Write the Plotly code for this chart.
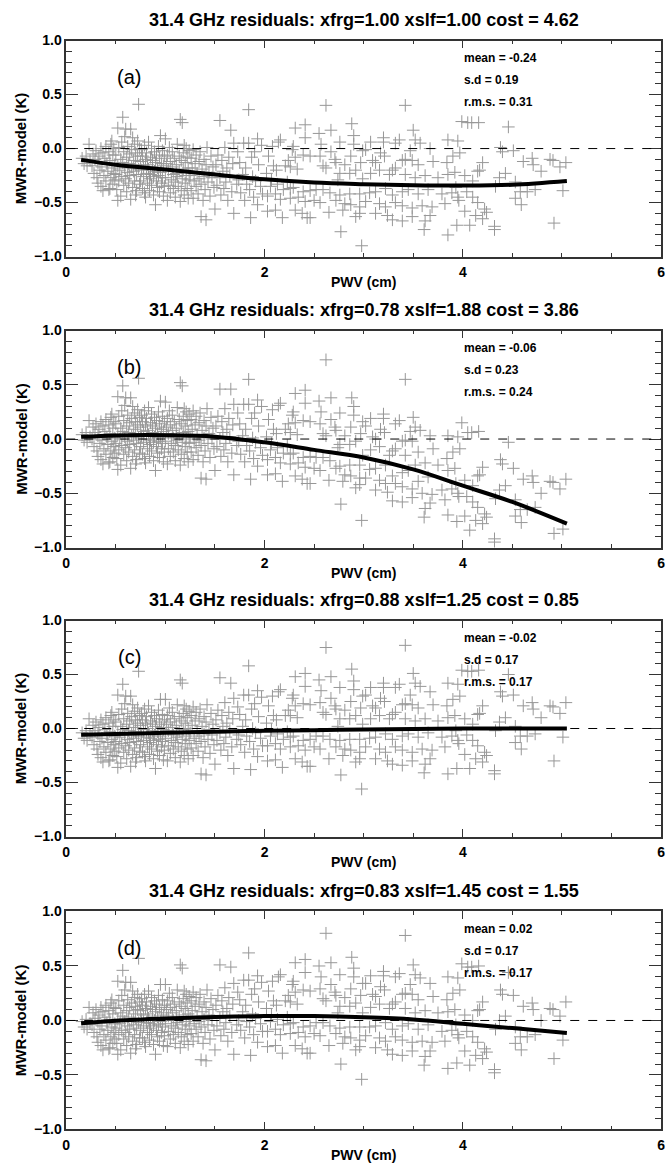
import plotly.graph_objects as go

# ---------------- data ----------------
pwv = [
    0.16, 0.18, 0.20, 0.21, 0.23, 0.24,
    0.26, 0.27, 0.28, 0.29, 0.30, 0.31, 0.32, 0.32, 0.33, 0.34, 0.35, 0.35, 0.36, 0.37, 0.37, 0.38, 0.39, 0.40, 0.40, 0.41,
    0.42, 0.43, 0.43, 0.44, 0.45, 0.45, 0.46, 0.47, 0.47, 0.48, 0.48, 0.49, 0.49, 0.46, 0.44,
    0.50, 0.50, 0.51, 0.52, 0.52, 0.53, 0.53, 0.54, 0.55, 0.55, 0.56, 0.56, 0.57, 0.57, 0.58, 0.58, 0.59, 0.60, 0.60, 0.61,
    0.61, 0.62, 0.62, 0.63, 0.63, 0.64, 0.64, 0.65, 0.65, 0.66, 0.66, 0.67, 0.67, 0.68, 0.68, 0.69, 0.69, 0.70, 0.70, 0.71,
    0.71, 0.72, 0.72, 0.73, 0.73, 0.74, 0.74, 0.52, 0.59, 0.70,
    0.75, 0.75, 0.76, 0.76, 0.77, 0.77, 0.78, 0.78, 0.79, 0.79, 0.80, 0.80, 0.81, 0.81, 0.82, 0.82, 0.83, 0.83, 0.84, 0.84,
    0.85, 0.85, 0.86, 0.86, 0.87, 0.87, 0.88, 0.88, 0.89, 0.89, 0.90, 0.90, 0.91, 0.91, 0.92, 0.92, 0.93, 0.93, 0.94, 0.94,
    0.95, 0.95, 0.96, 0.96, 0.97, 0.97, 0.98, 0.98, 0.99, 0.99,
    1.00, 1.00, 1.01, 1.02, 1.02, 1.03, 1.03, 1.04, 1.05, 1.05, 1.06, 1.07, 1.07, 1.08, 1.08, 1.09, 1.10, 1.10, 1.11, 1.12,
    1.12, 1.13, 1.14, 1.14, 1.15, 1.15, 1.16, 1.16, 1.17, 1.17, 1.18, 1.18, 1.19, 1.20, 1.20, 1.21, 1.21, 1.22, 1.22, 1.23,
    1.23, 1.24, 1.24, 1.11, 1.19,
    1.25, 1.26, 1.26, 1.27, 1.28, 1.28, 1.29, 1.30, 1.31, 1.31, 1.32, 1.33, 1.34, 1.34, 1.35, 1.36, 1.36, 1.37, 1.38, 1.39,
    1.39, 1.40, 1.41, 1.41, 1.42, 1.43, 1.44, 1.45, 1.46, 1.47, 1.48, 1.49,
    1.50, 1.51, 1.52, 1.53, 1.55, 1.55, 1.56, 1.57, 1.58, 1.59, 1.60, 1.61, 1.62, 1.63, 1.64, 1.65, 1.66, 1.67, 1.68, 1.69,
    1.69, 1.72, 1.73, 1.74,
    1.75, 1.76, 1.78, 1.79, 1.80, 1.81, 1.82, 1.84, 1.84, 1.85, 1.86, 1.87, 1.88, 1.89, 1.90, 1.91, 1.93, 1.93, 1.94, 1.96,
    1.97, 1.98,
    2.02, 2.03, 2.03, 2.04, 2.06, 2.07, 2.08, 2.09, 2.11, 2.11, 2.12, 2.13, 2.14, 2.16, 2.16, 2.18, 2.19, 2.21, 2.23, 2.24,
    2.26, 2.26, 2.26, 2.28, 2.29, 2.29, 2.31, 2.31, 2.31, 2.33, 2.34, 2.38, 2.39, 2.39, 2.41, 2.41, 2.41, 2.43, 2.46, 2.46, 2.46,
    2.50, 2.52, 2.55, 2.56, 2.56, 2.57, 2.59, 2.59, 2.62, 2.62, 2.65, 2.66, 2.67, 2.67, 2.71, 2.72, 2.72, 2.74,
    2.76, 2.76, 2.76, 2.77, 2.79, 2.81, 2.81, 2.86, 2.86, 2.87, 2.88, 2.90, 2.90, 2.87, 2.92, 2.92, 2.96, 2.96, 2.96, 2.97,
    2.98, 2.99,
    2.99, 3.02, 3.02, 3.06, 3.07, 3.07, 3.09, 3.12, 3.12, 3.12, 3.16, 3.16, 3.17, 3.20, 3.20, 3.21, 3.22, 3.22, 3.24,
    3.26, 3.29, 3.29, 3.29, 3.32, 3.32, 3.32, 3.36, 3.39, 3.39, 3.39, 3.39, 3.42, 3.42, 3.42, 3.45, 3.47, 3.49, 3.49, 3.49,
    3.50, 3.52, 3.52, 3.55, 3.55, 3.57, 3.59, 3.61, 3.62, 3.62, 3.65, 3.67, 3.67, 3.69, 3.70, 3.75,
    3.79, 3.82, 3.84, 3.85, 3.85, 3.85, 3.89, 3.90, 3.92, 3.94, 3.95, 3.95, 3.97, 3.99, 3.93, 3.96,
    4.02, 4.02, 4.05, 4.04, 4.07, 4.09, 4.10, 4.10, 4.13, 4.15, 4.15, 4.16, 4.17, 4.20, 4.20, 4.22, 4.24,
    4.32, 4.32, 4.33, 4.37, 4.38, 4.40, 4.43, 4.46,
    4.51, 4.53, 4.53, 4.58, 4.59, 4.61, 4.65, 4.70, 4.71, 4.73,
    4.79, 4.88, 4.91, 4.92, 4.98, 5.01, 5.04,
]

res_a = [
    -0.09, -0.14, -0.07, -0.16, 0.04, -0.11,
    -0.16, -0.05, -0.23, -0.10, -0.02, -0.27, -0.32, -0.13, -0.07, -0.20, 0.00, -0.35, -0.17, -0.39, -0.04, -0.25, -0.09, 0.02, -0.30, -0.14,
    -0.21, -0.38, -0.03, -0.11, -0.27, 0.04, -0.18, -0.33, -0.06, -0.23, 0.00, -0.15, -0.29, 0.07, -0.37,
    -0.24, -0.06, -0.38, 0.19, -0.16, 0.01, -0.30, -0.20, -0.10, -0.44, 0.06, -0.26, 0.29, -0.13, -0.34, -0.03, -0.18, 0.18, -0.28, -0.08,
    -0.40, 0.02, -0.22, -0.14, -0.32, -0.05, -0.25, 0.18, -0.47, -0.17, -0.01, 0.10, -0.36, -0.11, -0.21, 0.04, -0.30, -0.15, -0.04, -0.39,
    -0.24, -0.07, 0.07, 0.41, -0.19, -0.33, 0.00, -0.48, 0.11, -0.43,
    -0.30, -0.12, -0.01, -0.20, -0.37, -0.07, -0.26, -0.16, 0.03, -0.41, -0.45, -0.10, -0.23, -0.04, -0.32, -0.15, -0.19, 0.06, -0.28, -0.39,
    -0.08, -0.24, 0.00, -0.34, -0.17, -0.11, -0.43, -0.26, -0.03, -0.21, -0.52, -0.13, -0.30, -0.06, -0.36, -0.18, 0.02, -0.25, -0.09, -0.40,
    0.12, -0.22, -0.14, -0.32, -0.02, -0.27, -0.16, -0.44, -0.07, -0.35,
    0.09, -0.27, -0.14, -0.48, -0.06, -0.34, -0.20, 0.01, -0.41, -0.12, -0.29, -0.17, -0.03, -0.37, -0.24, -0.09, -0.45, -0.31, -0.15, 0.04,
    -0.26, -0.35, -0.07, -0.21, 0.27, -0.49, -0.11, -0.39, 0.24, -0.28, -0.04, -0.19, -0.43, -0.13, -0.32, 0.00, -0.25, -0.37, -0.08, -0.18,
    -0.46, -0.02, -0.29, -0.23, 0.03,
    -0.25, -0.09, -0.39, -0.18, -0.46, -0.01, -0.30, -0.14, -0.35, -0.06, -0.23, -0.42, -0.12, -0.28, -0.03, -0.63, -0.33, -0.19, -0.48, -0.10,
    -0.26, -0.38, -0.66, -0.15, 0.01, -0.31, -0.22, -0.44, -0.07, -0.27, -0.17, -0.36,
    -0.56, -0.15, -0.34, -0.06, 0.26, -0.27, -0.43, -0.11, -0.21, -0.37, 0.01, -0.31, -0.18, -0.48, -0.08, -0.25, 0.17, -0.40, -0.14, 0.05,
    -0.60, -0.33, -0.03, -0.29,
    -0.13, -0.41, -0.24, 0.05, -0.48, -0.18, -0.33, 0.36, 0.05, -0.38, -0.64, -0.08, -0.26, -0.45, -0.03, -0.30, 0.09, -0.52, -0.15, -0.35,
    0.03, -0.42,
    -0.23, -0.44, -0.58, -0.07, -0.35, -0.29, 0.02, -0.16, -0.42, -0.57, -0.20, -0.33, 0.06, 0.08, -0.47, -0.64, -0.38, -0.16, -0.31, -0.11,
    -0.17, -0.37, -0.46, -0.01, 0.02, -0.36, 0.19, -0.08, -0.57, -0.19, -0.45, -0.60, -0.06, -0.40, 0.22, 0.10, -0.49, -0.64, -0.07, -0.39, -0.64,
    -0.48, -0.38, 0.14, -0.07, -0.50, 0.04, -0.16, -0.38, 0.40, -0.18, -0.59, -0.41, 0.17, -0.03, -0.10, -0.13, -0.48, -0.29,
    0.06, -0.43, -0.23, -0.77, -0.57, -0.15, -0.51, -0.23, -0.42, -0.07, 0.23, 0.12, 0.04, -0.52, -0.20, -0.63, -0.42, -0.54, -0.60, -0.13,
    -0.90, -0.02,
    -0.28, -0.01, -0.49, -0.41, 0.06, -0.23, -0.11, -0.13, -0.40, -0.60, -0.20, -0.51, -0.04, 0.10, 0.06, -0.07, -0.37, -0.54, -0.62,
    -0.24, -0.20, -0.43, -0.66, 0.05, -0.18, -0.50, 0.08, -0.11, -0.40, -0.53, -0.67, 0.40, -0.10, -0.24, -0.38, -0.02, -0.11, -0.55, -0.63,
    0.17, 0.08, -0.27, -0.15, -0.42, 0.05, -0.53, -0.75, -0.25, -0.67, -0.38, 0.00, -0.62, -0.54, -0.12, -0.27,
    -0.42, -0.51, -0.13, -0.24, 0.08, -0.80, -0.41, -0.07, -0.22, -0.71, 0.07, -0.45, -0.04, 0.25, -0.36, -0.48,
    -0.25, -0.58, 0.24, -0.40, -0.71, 0.24, -0.30, -0.45, -0.62, -0.21, -0.50, 0.24, -0.20, -0.13, -0.65, -0.56, -0.59,
    -0.72, -0.75, -0.35, -0.27, 0.01, -0.03, -0.23, 0.20,
    -0.02, -0.31, -0.46, -0.40, -0.52, -0.12, -0.40, -0.09, -0.15, -0.38,
    -0.21, -0.10, -0.11, -0.69, -0.17, -0.39, -0.13,
]

res_b = [
    0.04, -0.01, 0.06, -0.03, 0.17, 0.02,
    0.00, 0.11, -0.07, 0.06, 0.14, -0.11, -0.16, 0.03, 0.09, -0.04, 0.16, -0.19, -0.01, -0.23, 0.12, -0.09, 0.07, 0.18, -0.14, 0.02,
    -0.05, -0.22, 0.13, 0.05, -0.11, 0.20, -0.02, -0.17, 0.10, -0.07, 0.16, 0.01, -0.13, 0.23, -0.21,
    -0.04, 0.14, -0.18, 0.39, 0.04, 0.21, -0.10, 0.00, 0.10, -0.24, 0.26, -0.06, 0.49, 0.07, -0.14, 0.17, 0.02, 0.38, -0.08, 0.12,
    -0.20, 0.22, -0.02, 0.06, -0.12, 0.15, -0.05, 0.38, -0.27, 0.03, 0.19, 0.30, -0.16, 0.09, -0.01, 0.24, -0.10, 0.05, 0.16, -0.19,
    -0.04, 0.13, 0.27, 0.56, 0.01, -0.13, 0.20, -0.28, 0.31, -0.23,
    -0.07, 0.11, 0.22, 0.03, -0.14, 0.16, -0.03, 0.07, 0.26, -0.18, -0.22, 0.13, 0.00, 0.19, -0.09, 0.08, 0.04, 0.29, -0.05, -0.16,
    0.15, -0.01, 0.23, -0.11, 0.06, 0.12, -0.20, -0.03, 0.20, 0.02, -0.29, 0.10, -0.07, 0.17, -0.13, 0.05, 0.25, -0.02, 0.14, -0.17,
    0.35, 0.01, 0.09, -0.09, 0.21, -0.04, 0.07, -0.21, 0.16, -0.12,
    0.34, -0.02, 0.11, -0.23, 0.19, -0.09, 0.05, 0.26, -0.16, 0.13, -0.04, 0.08, 0.22, -0.12, 0.01, 0.16, -0.20, -0.06, 0.10, 0.29,
    -0.01, -0.10, 0.18, 0.04, 0.52, -0.24, 0.14, -0.14, 0.49, -0.03, 0.21, 0.06, -0.18, 0.12, -0.07, 0.25, 0.00, -0.12, 0.17, 0.07,
    -0.21, 0.23, -0.04, 0.02, 0.28,
    0.02, 0.18, -0.12, 0.09, -0.19, 0.26, -0.03, 0.13, -0.08, 0.21, 0.04, -0.15, 0.15, -0.01, 0.24, -0.36, -0.06, 0.08, -0.21, 0.17,
    0.01, -0.11, -0.37, 0.12, 0.28, -0.04, 0.05, -0.17, 0.20, 0.00, 0.10, -0.09,
    -0.29, 0.12, -0.07, 0.21, 0.46, 0.00, -0.16, 0.16, 0.06, -0.10, 0.28, -0.04, 0.09, -0.21, 0.19, 0.02, 0.46, -0.13, 0.13, 0.32,
    -0.33, -0.06, 0.24, -0.02,
    0.14, -0.14, 0.03, 0.32, -0.21, 0.09, -0.06, 0.55, 0.32, -0.11, -0.37, 0.19, 0.01, -0.18, 0.24, -0.03, 0.36, -0.25, 0.12, -0.08,
    0.30, -0.15,
    0.02, -0.19, -0.33, 0.18, -0.10, -0.04, 0.27, 0.09, -0.17, -0.32, 0.05, -0.08, 0.31, 0.33, -0.22, -0.39, -0.13, 0.09, -0.06, 0.14,
    0.06, -0.14, -0.23, 0.22, 0.25, -0.13, 0.42, 0.15, -0.34, 0.04, -0.22, -0.37, 0.17, -0.17, 0.45, 0.33, -0.26, -0.41, 0.16, -0.16, -0.41,
    -0.27, -0.17, 0.35, 0.14, -0.29, 0.25, 0.05, -0.17, 0.73, 0.03, -0.38, -0.20, 0.38, 0.18, 0.11, 0.08, -0.27, -0.08,
    0.24, -0.25, -0.05, -0.60, -0.39, 0.03, -0.33, -0.05, -0.24, 0.11, 0.38, 0.30, 0.22, -0.34, -0.02, -0.45, -0.24, -0.36, -0.42, 0.05,
    -0.75, 0.16,
    -0.15, 0.12, -0.36, -0.28, 0.19, -0.10, 0.02, 0.00, -0.27, -0.47, -0.07, -0.38, 0.09, 0.23, 0.19, 0.06, -0.24, -0.41, -0.49,
    -0.15, -0.11, -0.34, -0.57, 0.14, -0.09, -0.41, 0.17, -0.02, -0.31, -0.44, -0.58, 0.55, -0.01, -0.15, -0.29, 0.07, -0.02, -0.46, -0.54,
    0.20, 0.11, -0.24, -0.12, -0.39, 0.08, -0.50, -0.72, -0.22, -0.64, -0.35, 0.03, -0.59, -0.51, -0.09, -0.24,
    -0.47, -0.56, -0.18, -0.29, 0.03, -0.70, -0.46, -0.12, -0.27, -0.76, 0.02, -0.50, -0.09, 0.15, -0.41, -0.53,
    -0.38, -0.71, 0.06, -0.53, -0.84, 0.06, -0.43, -0.58, -0.75, -0.34, -0.63, 0.07, -0.33, -0.26, -0.78, -0.69, -0.72,
    -0.92, -0.95, -0.55, -0.47, -0.19, -0.23, -0.43, -0.03,
    -0.27, -0.56, -0.71, -0.65, -0.77, -0.37, -0.65, -0.34, -0.40, -0.63,
    -0.50, -0.39, -0.40, -0.87, -0.46, -0.83, -0.37,
]

res_c = [
    -0.04, -0.09, -0.02, -0.11, 0.09, -0.06,
    -0.08, 0.03, -0.15, -0.02, 0.06, -0.19, -0.24, -0.05, 0.01, -0.12, 0.08, -0.27, -0.09, -0.31, 0.04, -0.17, -0.01, 0.10, -0.22, -0.06,
    -0.13, -0.30, 0.05, -0.03, -0.19, 0.12, -0.10, -0.25, 0.02, -0.15, 0.08, -0.07, -0.21, 0.15, -0.29,
    -0.12, 0.06, -0.26, 0.31, -0.04, 0.13, -0.18, -0.08, 0.02, -0.32, 0.18, -0.14, 0.41, -0.01, -0.22, 0.09, -0.06, 0.30, -0.16, 0.04,
    -0.28, 0.14, -0.10, -0.02, -0.20, 0.07, -0.13, 0.30, -0.35, -0.05, 0.11, 0.22, -0.24, 0.01, -0.09, 0.16, -0.18, -0.03, 0.08, -0.27,
    -0.12, 0.05, 0.19, 0.53, -0.07, -0.21, 0.12, -0.36, 0.23, -0.31,
    -0.15, 0.03, 0.14, -0.05, -0.22, 0.08, -0.11, -0.01, 0.18, -0.26, -0.30, 0.05, -0.08, 0.11, -0.17, 0.00, -0.04, 0.21, -0.13, -0.24,
    0.07, -0.09, 0.15, -0.19, -0.02, 0.04, -0.28, -0.11, 0.12, -0.06, -0.37, 0.02, -0.15, 0.09, -0.21, -0.03, 0.17, -0.10, 0.06, -0.25,
    0.27, -0.07, 0.01, -0.17, 0.13, -0.12, -0.01, -0.29, 0.08, -0.20,
    0.27, -0.09, 0.04, -0.30, 0.12, -0.16, -0.02, 0.19, -0.23, 0.06, -0.11, 0.01, 0.15, -0.19, -0.06, 0.09, -0.27, -0.13, 0.03, 0.22,
    -0.08, -0.17, 0.11, -0.03, 0.45, -0.31, 0.07, -0.21, 0.42, -0.10, 0.14, -0.01, -0.25, 0.05, -0.14, 0.18, -0.07, -0.19, 0.10, 0.00,
    -0.28, 0.16, -0.11, -0.05, 0.21,
    -0.04, 0.12, -0.18, 0.03, -0.25, 0.20, -0.09, 0.07, -0.14, 0.15, -0.02, -0.21, 0.09, -0.07, 0.18, -0.42, -0.12, 0.02, -0.27, 0.11,
    -0.05, -0.17, -0.43, 0.06, 0.22, -0.10, -0.01, -0.23, 0.14, -0.06, 0.04, -0.15,
    -0.33, 0.08, -0.11, 0.17, 0.47, -0.04, -0.20, 0.12, 0.02, -0.14, 0.24, -0.08, 0.05, -0.25, 0.15, -0.02, 0.42, -0.17, 0.09, 0.28,
    -0.37, -0.10, 0.20, -0.06,
    0.13, -0.15, 0.02, 0.31, -0.22, 0.08, -0.07, 0.58, 0.31, -0.12, -0.38, 0.18, 0.00, -0.19, 0.23, -0.04, 0.35, -0.26, 0.11, -0.09,
    0.29, -0.16,
    0.05, -0.16, -0.30, 0.21, -0.07, -0.01, 0.30, 0.12, -0.14, -0.29, 0.08, -0.05, 0.34, 0.36, -0.19, -0.36, -0.10, 0.12, -0.03, 0.17,
    0.12, -0.08, -0.17, 0.28, 0.31, -0.07, 0.48, 0.21, -0.28, 0.10, -0.16, -0.31, 0.23, -0.11, 0.51, 0.39, -0.20, -0.35, 0.22, -0.10, -0.35,
    -0.17, -0.07, 0.45, 0.24, -0.19, 0.35, 0.15, -0.07, 0.75, 0.13, -0.28, -0.10, 0.48, 0.28, 0.21, 0.18, -0.17, 0.02,
    0.38, -0.11, 0.09, -0.43, -0.25, 0.17, -0.19, 0.09, -0.10, 0.25, 0.55, 0.44, 0.36, -0.20, 0.12, -0.31, -0.10, -0.22, -0.28, 0.19,
    -0.56, 0.30,
    0.04, 0.31, -0.17, -0.09, 0.38, 0.09, 0.21, 0.19, -0.08, -0.28, 0.12, -0.19, 0.28, 0.42, 0.38, 0.25, -0.05, -0.22, -0.30,
    0.09, 0.13, -0.10, -0.33, 0.38, 0.15, -0.17, 0.41, 0.22, -0.07, -0.20, -0.34, 0.77, 0.23, 0.09, -0.05, 0.31, 0.22, -0.22, -0.30,
    0.51, 0.42, 0.07, 0.19, -0.08, 0.39, -0.19, -0.41, 0.09, -0.33, -0.04, 0.34, -0.28, -0.20, 0.22, 0.07,
    -0.08, -0.17, 0.21, 0.10, 0.42, -0.42, -0.07, 0.27, 0.12, -0.37, 0.41, -0.11, 0.30, 0.54, -0.02, -0.14,
    0.09, -0.24, 0.53, -0.06, -0.37, 0.53, 0.04, -0.11, -0.28, 0.13, -0.16, 0.54, 0.14, 0.21, -0.31, -0.22, -0.25,
    -0.39, -0.42, -0.02, 0.06, 0.34, 0.30, 0.10, 0.50,
    0.31, 0.02, -0.13, -0.07, -0.19, 0.21, -0.07, 0.24, 0.18, -0.05,
    0.10, 0.21, 0.20, -0.30, 0.14, -0.08, 0.24,
]

res_d = [
    -0.01, -0.06, 0.01, -0.08, 0.12, -0.03,
    -0.04, 0.07, -0.11, 0.02, 0.10, -0.15, -0.20, -0.01, 0.05, -0.08, 0.12, -0.23, -0.05, -0.27, 0.08, -0.13, 0.03, 0.14, -0.18, -0.02,
    -0.09, -0.26, 0.09, 0.01, -0.15, 0.16, -0.06, -0.21, 0.06, -0.11, 0.12, -0.03, -0.17, 0.19, -0.25,
    -0.07, 0.11, -0.21, 0.36, 0.01, 0.18, -0.13, -0.03, 0.07, -0.27, 0.23, -0.09, 0.46, 0.04, -0.17, 0.14, -0.01, 0.35, -0.11, 0.09,
    -0.23, 0.19, -0.05, 0.03, -0.15, 0.12, -0.08, 0.35, -0.30, 0.00, 0.16, 0.27, -0.19, 0.06, -0.04, 0.21, -0.13, 0.02, 0.13, -0.22,
    -0.07, 0.10, 0.24, 0.57, -0.02, -0.16, 0.17, -0.31, 0.28, -0.26,
    -0.09, 0.09, 0.20, 0.01, -0.16, 0.14, -0.05, 0.05, 0.24, -0.20, -0.24, 0.11, -0.02, 0.17, -0.11, 0.06, 0.02, 0.27, -0.07, -0.18,
    0.13, -0.03, 0.21, -0.13, 0.04, 0.10, -0.22, -0.05, 0.18, 0.00, -0.31, 0.08, -0.09, 0.15, -0.15, 0.03, 0.23, -0.04, 0.12, -0.19,
    0.33, -0.01, 0.07, -0.11, 0.19, -0.06, 0.05, -0.23, 0.14, -0.14,
    0.33, -0.03, 0.10, -0.24, 0.18, -0.10, 0.04, 0.25, -0.17, 0.12, -0.05, 0.07, 0.21, -0.13, 0.00, 0.15, -0.21, -0.07, 0.09, 0.28,
    -0.02, -0.11, 0.17, 0.03, 0.51, -0.25, 0.13, -0.15, 0.48, -0.04, 0.20, 0.05, -0.19, 0.11, -0.08, 0.24, -0.01, -0.13, 0.16, 0.06,
    -0.22, 0.22, -0.05, 0.01, 0.27,
    0.02, 0.18, -0.12, 0.09, -0.19, 0.26, -0.03, 0.13, -0.08, 0.21, 0.04, -0.15, 0.15, -0.01, 0.24, -0.36, -0.06, 0.08, -0.21, 0.17,
    0.01, -0.11, -0.37, 0.12, 0.28, -0.04, 0.05, -0.17, 0.20, 0.00, 0.10, -0.09,
    -0.27, 0.14, -0.05, 0.23, 0.51, 0.02, -0.14, 0.18, 0.08, -0.08, 0.30, -0.02, 0.11, -0.19, 0.21, 0.04, 0.49, -0.11, 0.15, 0.34,
    -0.31, -0.04, 0.26, 0.00,
    0.19, -0.09, 0.08, 0.37, -0.16, 0.14, -0.01, 0.62, 0.37, -0.06, -0.32, 0.24, 0.06, -0.13, 0.29, 0.02, 0.41, -0.20, 0.17, -0.03,
    0.35, -0.10,
    0.11, -0.10, -0.24, 0.27, -0.01, 0.05, 0.36, 0.18, -0.08, -0.23, 0.14, 0.01, 0.40, 0.42, -0.13, -0.30, -0.04, 0.18, 0.03, 0.23,
    0.17, -0.03, -0.12, 0.33, 0.36, -0.02, 0.53, 0.26, -0.23, 0.15, -0.11, -0.26, 0.28, -0.06, 0.56, 0.44, -0.15, -0.30, 0.27, -0.05, -0.30,
    -0.12, -0.02, 0.50, 0.29, -0.14, 0.40, 0.20, -0.02, 0.80, 0.18, -0.23, -0.05, 0.53, 0.33, 0.26, 0.23, -0.12, 0.07,
    0.42, -0.07, 0.13, -0.40, -0.21, 0.21, -0.15, 0.13, -0.06, 0.29, 0.58, 0.48, 0.40, -0.16, 0.16, -0.27, -0.06, -0.18, -0.24, 0.23,
    -0.54, 0.34,
    0.07, 0.34, -0.14, -0.06, 0.41, 0.12, 0.24, 0.22, -0.05, -0.25, 0.15, -0.16, 0.31, 0.45, 0.41, 0.28, -0.02, -0.19, -0.27,
    0.11, 0.15, -0.08, -0.31, 0.40, 0.17, -0.15, 0.43, 0.24, -0.05, -0.18, -0.32, 0.78, 0.25, 0.11, -0.03, 0.33, 0.24, -0.20, -0.28,
    0.51, 0.42, 0.07, 0.19, -0.08, 0.39, -0.19, -0.41, 0.09, -0.33, -0.04, 0.34, -0.28, -0.20, 0.22, 0.07,
    -0.10, -0.19, 0.19, 0.08, 0.40, -0.44, -0.09, 0.25, 0.10, -0.39, 0.39, -0.13, 0.28, 0.52, -0.04, -0.16,
    0.05, -0.28, 0.49, -0.10, -0.41, 0.49, 0.00, -0.15, -0.32, 0.09, -0.20, 0.50, 0.10, 0.17, -0.35, -0.26, -0.29,
    -0.45, -0.48, -0.08, 0.00, 0.28, 0.24, 0.04, 0.44,
    0.23, -0.06, -0.21, -0.15, -0.27, 0.13, -0.15, 0.16, 0.10, -0.13,
    0.00, 0.11, 0.10, -0.35, 0.04, -0.18, 0.17,
]

# fitted curves read at a few PWV positions
fit_x = [0.15, 0.5, 1.0, 1.5, 2.0, 2.5, 3.0, 3.5, 4.0, 4.5, 5.05]
fit_a = [-0.105, -0.15, -0.195, -0.24, -0.285, -0.315, -0.33, -0.34, -0.343, -0.335, -0.30]
fit_b = [0.02, 0.033, 0.035, 0.022, -0.03, -0.10, -0.17, -0.28, -0.43, -0.58, -0.78]
fit_c = [-0.058, -0.05, -0.04, -0.03, -0.02, -0.015, -0.01, -0.005, 0.0, 0.0, 0.0]
fit_d = [-0.025, -0.002, 0.018, 0.032, 0.04, 0.04, 0.03, 0.01, -0.03, -0.07, -0.115]

titles = [
    "31.4 GHz residuals: xfrg=1.00 xslf=1.00 cost = 4.62",
    "31.4 GHz residuals: xfrg=0.78 xslf=1.88 cost = 3.86",
    "31.4 GHz residuals: xfrg=0.88 xslf=1.25 cost = 0.85",
    "31.4 GHz residuals: xfrg=0.83 xslf=1.45 cost = 1.55",
]
panel_labels = ["(a)", "(b)", "(c)", "(d)"]
stat_mean = ["-0.24", "-0.06", "-0.02", "0.02"]
stat_sd = ["0.19", "0.23", "0.17", "0.17"]
stat_rms = ["0.31", "0.24", "0.17", "0.17"]
x_ticks = [0, 2, 4, 6]
y_ticks = [-1.0, -0.5, 0.0, 0.5, 1.0]

residuals = [res_a, res_b, res_c, res_d]
fits = [fit_a, fit_b, fit_c, fit_d]
for r in residuals:
    assert len(r) == len(pwv), (len(r), len(pwv))

# ---------------- layout ----------------
W, H = 670, 1171
X0, X1 = 63, 665
panel_px = [(33, 252), (327, 547), (621, 840), (916, 1137)]  # (top, bottom)

FONT = "Liberation Sans, Arial, Helvetica, sans-serif"
AX_COLOR = "#333333"
PT_COLOR = "#979797"


def px(xp):
    return xp / W


def py(yp):
    return 1 - yp / H


fig = go.Figure()
annotations = []
shapes = []

for i in range(4):
    sfx = "" if i == 0 else str(i + 1)
    xa, ya = "x" + sfx, "y" + sfx
    top, bot = panel_px[i]

    fig.add_trace(go.Scatter(
        x=pwv, y=residuals[i], mode="markers", xaxis=xa, yaxis=ya,
        marker=dict(symbol="cross-thin", size=9, color=PT_COLOR,
                    line=dict(width=1, color=PT_COLOR)),
        hoverinfo="skip", showlegend=False))
    fig.add_trace(go.Scatter(
        x=fit_x, y=fits[i], mode="lines", xaxis=xa, yaxis=ya,
        line=dict(color="black", width=4, shape="spline"),
        hoverinfo="skip", showlegend=False))

    shapes.append(dict(type="line", xref=xa + " domain", yref=ya,
                       x0=0, x1=1, y0=0, y1=0,
                       line=dict(color="black", width=1, dash="dash")))

    common = dict(showgrid=False, zeroline=False, showline=True, linecolor=AX_COLOR,
                  linewidth=1.5, mirror="ticks", ticks="inside", tickcolor=AX_COLOR,
                  tickwidth=1, ticklabeloverflow="allow",
                  tickfont=dict(family=FONT, size=14, color="black", weight="bold"))
    fig.update_layout(**{
        "xaxis" + sfx: dict(common, domain=[px(X0), px(X1)], range=[0, 6], anchor=ya,
                            tickvals=x_ticks, ticklen=8, ticklabelstandoff=2,
                            minor=dict(dtick=0.5, ticklen=4, ticks="inside", tickcolor=AX_COLOR)),
        "yaxis" + sfx: dict(common, domain=[py(bot), py(top)], range=[-1, 1], anchor=xa,
                            tickvals=y_ticks, tickformat=".1f", ticklen=12,
                            minor=dict(dtick=0.1, ticklen=6, ticks="inside", tickcolor=AX_COLOR)),
    })

    # panel title
    annotations.append(dict(text=titles[i], x=px((X0 + X1) / 2), y=py(top - 21),
                            xref="paper", yref="paper", showarrow=False,
                            xanchor="center", yanchor="middle",
                            font=dict(family=FONT, size=18, color="black", weight="bold")))
    # x-axis title
    annotations.append(dict(text="PWV (cm)", x=px((X0 + X1) / 2), y=py(bot + 26),
                            xref="paper", yref="paper", showarrow=False,
                            xanchor="center", yanchor="middle",
                            font=dict(family=FONT, size=14, color="black", weight="bold")))
    # y-axis title
    annotations.append(dict(text="MWR-model (K)", x=px(17), y=py((top + bot) / 2),
                            xref="paper", yref="paper", showarrow=False, textangle=-90,
                            xanchor="center", yanchor="middle",
                            font=dict(family=FONT, size=15, color="black", weight="bold")))
    # panel label
    annotations.append(dict(text=panel_labels[i], x=px(127), y=py(top + 37),
                            xref="paper", yref="paper", showarrow=False,
                            xanchor="center", yanchor="middle",
                            font=dict(family=FONT, size=20, color="black")))
    # statistics
    for k, t in enumerate([f"mean = {stat_mean[i]}", f"s.d = {stat_sd[i]}",
                           f"r.m.s. = {stat_rms[i]}"]):
        annotations.append(dict(text=t, x=px(464), y=py(top + 18 + 22 * k),
                                xref="paper", yref="paper", showarrow=False,
                                xanchor="left", yanchor="middle",
                                font=dict(family=FONT, size=12, color="black", weight="bold")))

fig.update_layout(width=W, height=H, margin=dict(l=0, r=0, t=0, b=0),
                  paper_bgcolor="white", plot_bgcolor="white", showlegend=False,
                  annotations=annotations, shapes=shapes)

# remove the browser's default 8px page margin so the figure fills the window exactly
fig.write_html("out.html", config={"displayModeBar": False},
               post_script="document.body.style.margin='0';")
